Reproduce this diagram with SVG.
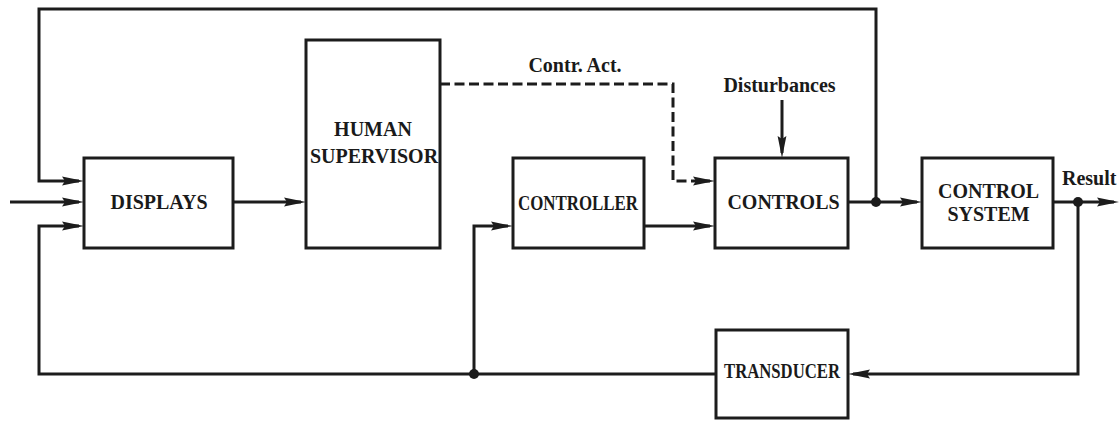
<svg xmlns="http://www.w3.org/2000/svg" width="1120" height="421" viewBox="0 0 1120 421">
  <defs>
    <style>
      .box { fill: #ffffff; stroke: #1c1c1c; stroke-width: 3; }
      .wire { fill: none; stroke: #1c1c1c; stroke-width: 3; }
      .dash { stroke-dasharray: 10 4.5; }
      .lbl { font-family: "Liberation Serif", "Times New Roman", serif; font-weight: bold; font-size: 20px; fill: #1a1a1a; text-anchor: middle; }
      .dot { fill: #1c1c1c; }
    </style>
    <marker id="arrow" viewBox="0 0 22 10" refX="17" refY="5" markerWidth="22" markerHeight="10" markerUnits="userSpaceOnUse" orient="auto">
      <path d="M0,0.6 L22,5 L0,9.4 L3,5 Z" fill="#1c1c1c"/>
    </marker>
  </defs>
  <rect width="1120" height="421" fill="#ffffff"/>

  <!-- connectors -->
  <g id="connectors">
    <!-- outer loop: controls output back to displays -->
    <path class="wire" d="M876,202 V9 H39 V181 H79" marker-end="url(#arrow)"/>
    <!-- external input -->
    <path class="wire" d="M10,202 H79" marker-end="url(#arrow)"/>
    <!-- transducer feedback to displays -->
    <path class="wire" d="M716,374 H39 V226 H79" marker-end="url(#arrow)"/>
    <!-- transducer feedback to controller -->
    <path class="wire" d="M474,374 V226 H508" marker-end="url(#arrow)"/>
    <!-- displays to human supervisor -->
    <path class="wire" d="M233,202 H301" marker-end="url(#arrow)"/>
    <!-- control action (dashed) -->
    <path class="wire dash" d="M440,84 H673 V181 H710" marker-end="url(#arrow)"/>
    <!-- controller to controls -->
    <path class="wire" d="M644,226 H710" marker-end="url(#arrow)"/>
    <!-- disturbances -->
    <path class="wire" d="M782,100 V153" marker-end="url(#arrow)"/>
    <!-- controls to control system -->
    <path class="wire" d="M848,202 H917" marker-end="url(#arrow)"/>
    <!-- result output -->
    <path class="wire" d="M1053,202 H1114" marker-end="url(#arrow)"/>
    <!-- result to transducer -->
    <path class="wire" d="M1078,202 V374 H853" marker-end="url(#arrow)"/>
    <circle class="dot" cx="876" cy="202" r="5"/>
    <circle class="dot" cx="1078" cy="202" r="5"/>
    <circle class="dot" cx="474" cy="374" r="5"/>
    <text class="lbl" x="575" y="72">Contr. Act.</text>
    <text class="lbl" x="779.5" y="92">Disturbances</text>
    <text class="lbl" x="1062" y="185" style="text-anchor:start">Result</text>
  </g>

  <g id="displays">
    <rect class="box" x="84" y="158" width="149" height="90"/>
    <text class="lbl" x="159" y="209">DISPLAYS</text>
  </g>

  <g id="human-supervisor">
    <rect class="box" x="306" y="40" width="134" height="208"/>
    <text class="lbl" x="373" y="136">HUMAN</text>
    <text class="lbl" x="374" y="163">SUPERVISOR</text>
  </g>

  <g id="controller">
    <rect class="box" x="513" y="158" width="131" height="90"/>
    <text class="lbl" x="578" y="210" textLength="120" lengthAdjust="spacingAndGlyphs">CONTROLLER</text>
  </g>

  <g id="controls">
    <rect class="box" x="715" y="158" width="133" height="90"/>
    <text class="lbl" x="783.5" y="209">CONTROLS</text>
  </g>

  <g id="control-system">
    <rect class="box" x="922" y="158" width="131" height="90"/>
    <text class="lbl" x="988.5" y="198">CONTROL</text>
    <text class="lbl" x="988.5" y="221">SYSTEM</text>
  </g>

  <g id="transducer">
    <rect class="box" x="716" y="330" width="132" height="88"/>
    <text class="lbl" x="782" y="378" textLength="116" lengthAdjust="spacingAndGlyphs">TRANSDUCER</text>
  </g>
</svg>
